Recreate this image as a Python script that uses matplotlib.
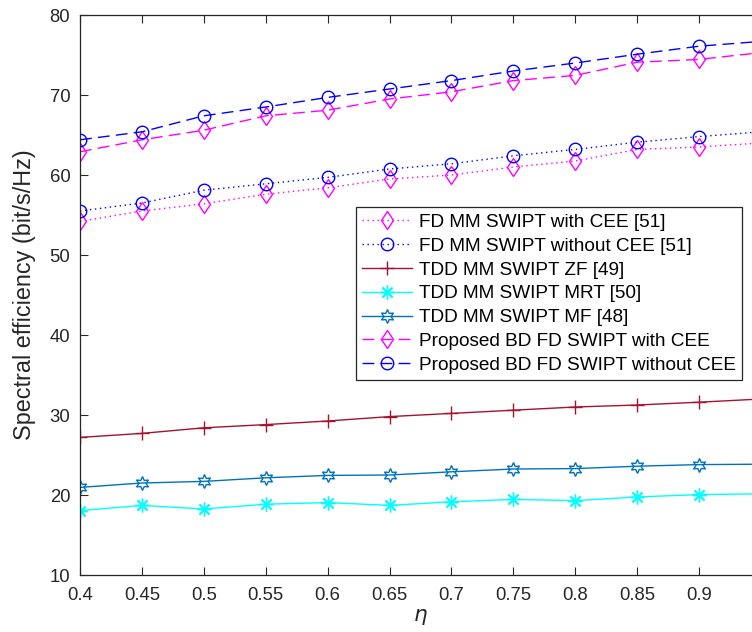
import matplotlib
matplotlib.use("Agg")
import matplotlib.pyplot as plt

plt.rcParams['font.family'] = ['Liberation Sans', 'DejaVu Sans']
plt.rcParams['mathtext.fontset'] = 'dejavusans'

eta = [0.4, 0.45, 0.5, 0.55, 0.6, 0.65, 0.7, 0.75, 0.8, 0.85, 0.9, 0.95]

fd_with_cee = [54.2, 55.5, 56.4, 57.6, 58.4, 59.5, 60.0, 61.0, 61.75, 63.2, 63.5, 64.0]
fd_without_cee = [55.5, 56.5, 58.1, 58.9, 59.7, 60.75, 61.4, 62.4, 63.2, 64.1, 64.8, 65.4]
tdd_zf = [27.2, 27.7, 28.4, 28.8, 29.25, 29.8, 30.2, 30.6, 31.0, 31.25, 31.6, 32.0]
tdd_mrt = [18.05, 18.7, 18.25, 18.85, 19.05, 18.7, 19.15, 19.45, 19.3, 19.75, 20.05, 20.15]
tdd_mf = [20.95, 21.5, 21.7, 22.15, 22.45, 22.5, 22.9, 23.25, 23.3, 23.6, 23.8, 23.85]
prop_with_cee = [62.9, 64.4, 65.6, 67.4, 68.1, 69.5, 70.4, 71.8, 72.45, 74.1, 74.45, 75.3]
prop_without_cee = [64.4, 65.4, 67.4, 68.5, 69.7, 70.75, 71.8, 73.0, 74.0, 75.1, 76.1, 76.7]

labels = ["FD MM SWIPT with CEE [51]",
          "FD MM SWIPT without CEE [51]",
          "TDD MM SWIPT ZF [49]",
          "TDD MM SWIPT MRT [50]",
          "TDD MM SWIPT MF [48]",
          "Proposed BD FD SWIPT with CEE",
          "Proposed BD FD SWIPT without CEE"]

xticks = [0.4, 0.45, 0.5, 0.55, 0.6, 0.65, 0.7, 0.75, 0.8, 0.85, 0.9]
xticklabels = ["0.4", "0.45", "0.5", "0.55", "0.6", "0.65", "0.7", "0.75", "0.8", "0.85", "0.9"]
yticks = [10, 20, 30, 40, 50, 60, 70, 80]

W, H = 752, 632
fig = plt.figure(figsize=(W / 100, H / 100), dpi=100)
ax = fig.add_axes([80 / W, 57 / H, 681 / W, 560 / H])

lw = 1.0
dot = (1, 2.6)
dash = (8.5, 4.5)
hexagram = (6, 1, 0)
asterisk = (8, 2, 0)

ax.plot(eta, fd_with_cee, color='#FF00FF', lw=lw, dashes=dot, marker='d', ms=9.5,
        mfc='none', mec='#FF00FF', mew=1.0, label=labels[0])
ax.plot(eta, fd_without_cee, color='#0000FF', lw=lw, dashes=dot, marker='o', ms=9,
        mfc='none', mec='#0000FF', mew=1.0, label=labels[1])
ax.plot(eta, tdd_zf, color='#A2142F', lw=lw, marker='+', ms=10,
        mew=1.0, label=labels[2])
ax.plot(eta, tdd_mrt, color='#00FFFF', lw=lw, marker=asterisk, ms=10,
        mew=1.0, label=labels[3])
ax.plot(eta, tdd_mf, color='#0072BD', lw=lw, marker=hexagram, ms=10,
        mfc='none', mec='#0072BD', mew=1.0, label=labels[4])
ax.plot(eta, prop_with_cee, color='#FF00FF', lw=lw, dashes=dash, marker='d', ms=9.5,
        mfc='none', mec='#FF00FF', mew=1.0, label=labels[5])
ax.plot(eta, prop_without_cee, color='#0000FF', lw=lw, dashes=dash, marker='o', ms=9,
        mfc='none', mec='#0000FF', mew=1.0, label=labels[6])

ax.set_xlim(0.4, 0.95)
ax.set_ylim(10, 80)
ax.set_xticks(xticks)
ax.set_xticklabels(xticklabels)
ax.set_yticks(yticks)

ax.tick_params(direction='in', length=6, width=0.8, colors='#262626',
               labelsize=13.3, top=True, right=True)
ax.tick_params(axis='x', pad=9)
ax.tick_params(axis='y', pad=7)
for s in ax.spines.values():
    s.set_color('#262626')
    s.set_linewidth(0.9)

ax.set_xlabel(r'$\eta$', fontsize=15.5, color='#262626', labelpad=1)
ax.set_ylabel('Spectral efficiency (bit/s/Hz)', fontsize=16.8, color='#262626', labelpad=10)

leg = ax.legend(loc='upper left', bbox_to_anchor=(0.405, 0.657), borderaxespad=0,
                fontsize=13.7, frameon=True, fancybox=False, framealpha=1,
                edgecolor='#262626', handlelength=2.6, handletextpad=0.35,
                labelspacing=0.34, borderpad=0.35, numpoints=1)
leg.get_frame().set_linewidth(0.9)
for t in leg.get_texts():
    t.set_color('black')

fig.savefig('out.png', dpi=100)
